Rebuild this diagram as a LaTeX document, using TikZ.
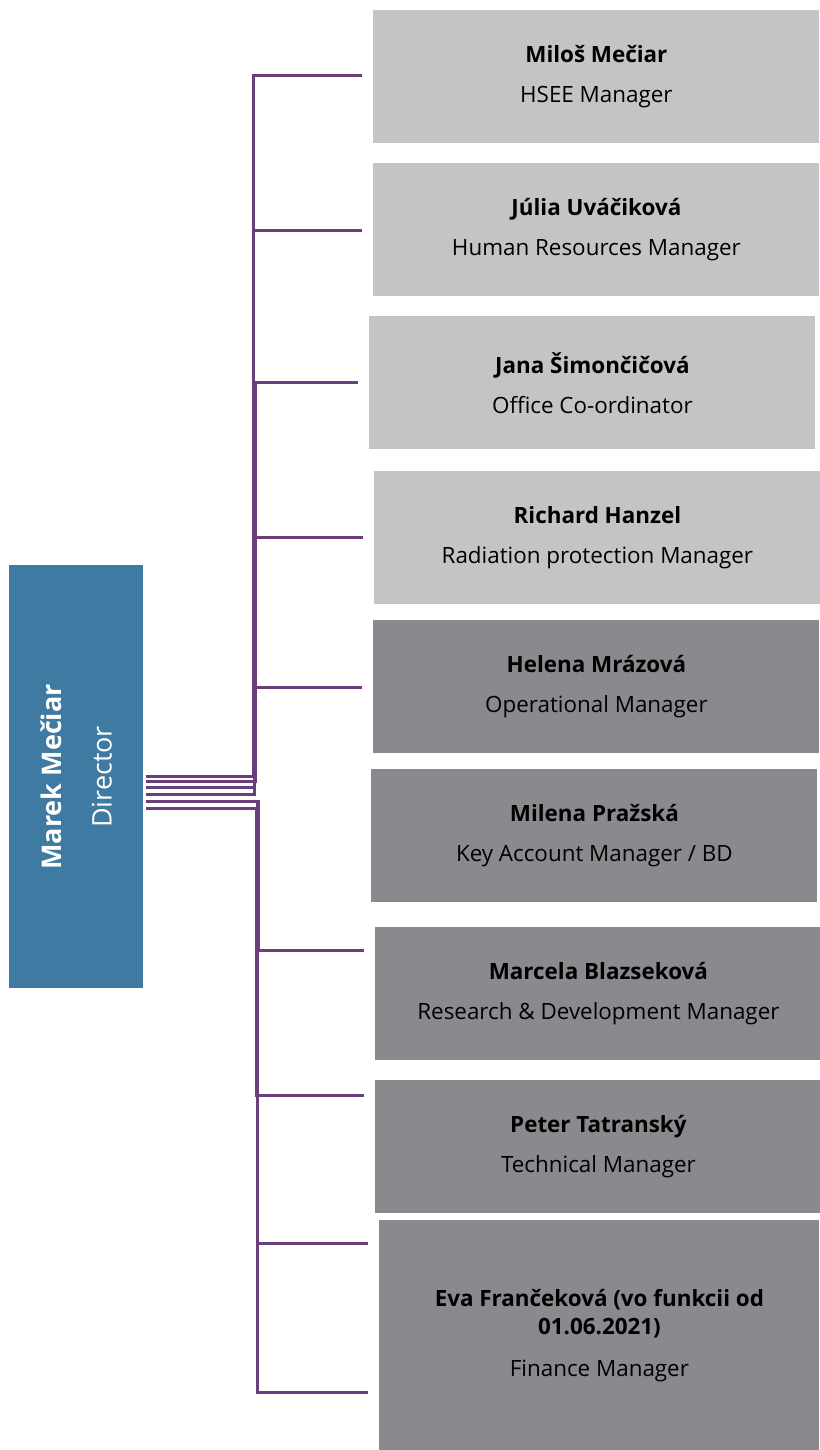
\documentclass[tikz,border=0pt]{standalone}
\usepackage{fontspec}
\setmainfont{Open Sans}
\definecolor{dirblue}{HTML}{3E7AA1}
\definecolor{staffgray}{HTML}{C3C4C6}
\definecolor{opsgray}{HTML}{888A8D}
\definecolor{linkpurple}{HTML}{6B3D7A}
\begin{document}
\begin{tikzpicture}[x=0.5pt, y=-0.5pt,
  every node/.style={inner sep=0pt, font=\fontsize{11.2}{14}\selectfont},
  unit/.style={anchor=north west, minimum width=223pt, minimum height=66.5pt, align=center, text=black},
  staff/.style={unit, fill=staffgray},
  ops/.style={unit, fill=opsgray},
  link/.style={draw=linkpurple, line width=1.5pt, shorten >=5.5pt}]
  \useasboundingbox (0,0) rectangle (819,1450);
  % director
  \node[fill=dirblue, anchor=north west, minimum width=67pt, minimum height=211.5pt] (dir) at (9,565) {};
  \node[rotate=90, text=white, align=center, font=\fontsize{13.5}{16}\selectfont] (dirlabel) at (dir.center) {\textbf{Marek Mečiar}\\[9pt]Director};
  % managers
  \node[staff] (hsee) at (373,10) {\textbf{Miloš Mečiar}\\[6pt]HSEE Manager};
  \node[staff] (hr) at (373,163) {\textbf{Júlia Uváčiková}\\[6pt]Human Resources Manager};
  \node[staff] (office) at (369,316) {\textbf{Jana Šimončičová}\\[6pt]Office Co-ordinator};
  \node[staff] (rad) at (374,471) {\textbf{Richard Hanzel}\\[6pt]Radiation protection Manager};
  \node[ops] (oper) at (373,620) {\textbf{Helena Mrázová}\\[6pt]Operational Manager};
  \node[ops] (kam) at (371,769) {\textbf{Milena Pražská}\\[6pt]Key Account Manager / BD};
  \node[ops] (rnd) at (375,927) {\textbf{Marcela Blazseková}\\[6pt]Research \& Development Manager};
  \node[ops] (tech) at (375,1080) {\textbf{Peter Tatranský}\\[6pt]Technical Manager};
  \node[ops, minimum width=220pt, minimum height=115pt] (fin) at (379,1220) {\textbf{Eva Frančeková (vo funkcii od}\\\textbf{01.06.2021)}\\[7pt]Finance Manager};
  % connectors
  \foreach \unit/\ya/\vx/\yb in {hsee/776/253/76, hr/776/253/230, office/781/255/382, rad/787/254/537,
      oper/794/254/687, rnd/801/258/950, tech/808/256/1095, fin/801/257/1243, fin/808/257/1392}
    \draw[link] ([xshift=1pt]dir.east |- 0,\ya) -| (\vx,\yb) -- (\unit.west |- 0,\yb);
\end{tikzpicture}
\end{document}
